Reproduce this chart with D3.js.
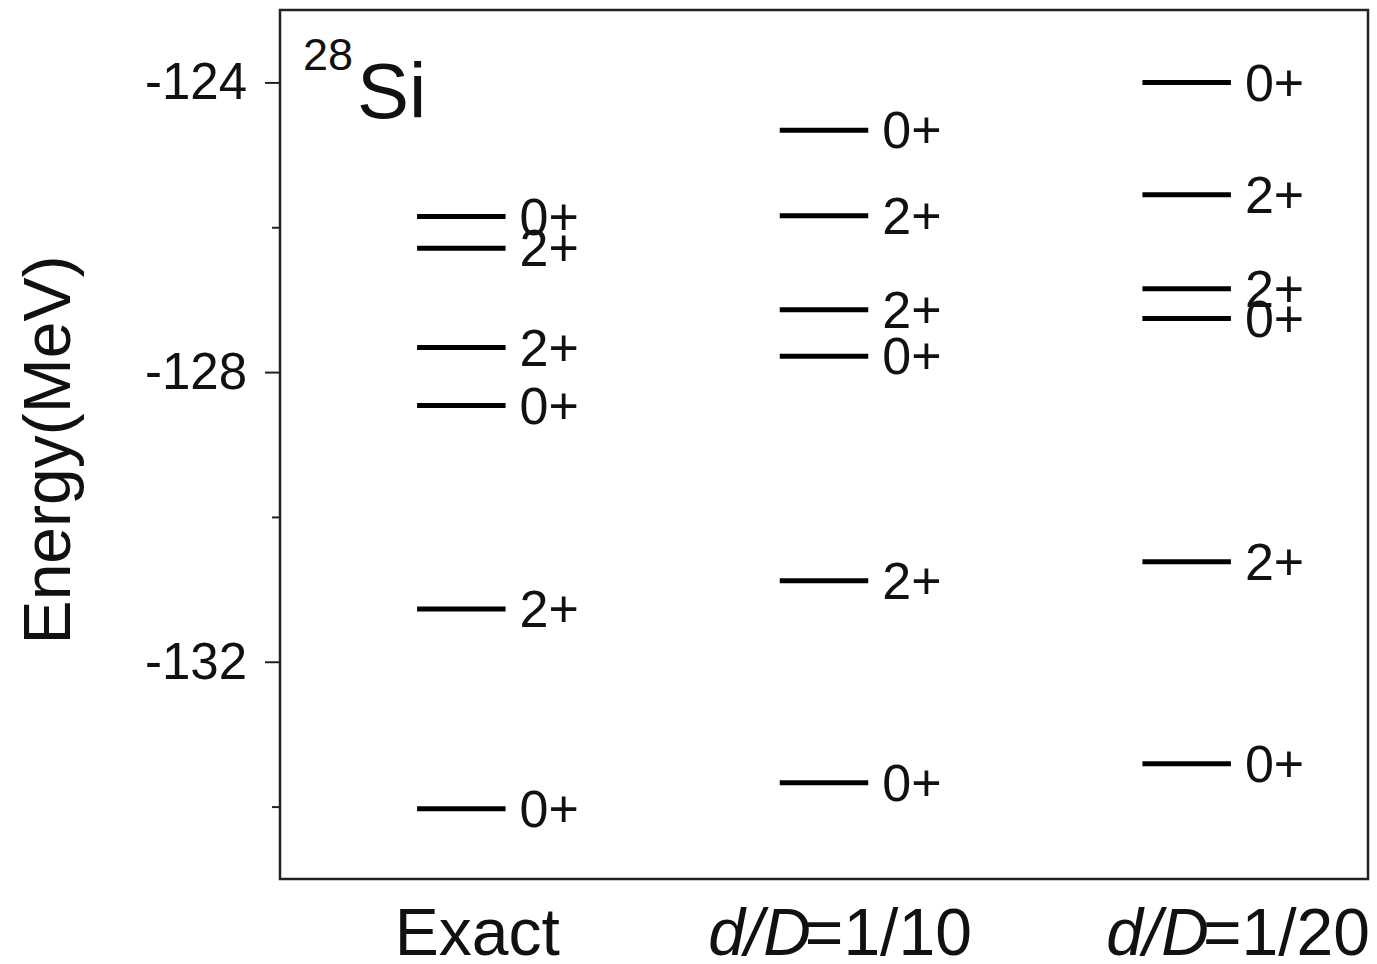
<!DOCTYPE html>
<html>
<head>
<meta charset="utf-8">
<script src="https://cdn.jsdelivr.net/npm/d3@7"></script>
<style>
  body { margin: 0; background: #fff; }
  text { font-family: "Liberation Sans", Arial, sans-serif; fill: #111; }
</style>
</head>
<body>
<div class="container"></div>
<script>
// columns of the level scheme
const categories = ["Exact", "d/D=1/10", "d/D=1/20"];

// level energies (MeV), with spin/parity labels
const exactLevels = [-125.85, -126.29, -127.66, -128.46, -131.27, -134.03];
const exactSpins  = ["0+", "2+", "2+", "0+", "2+", "0+"];
const tenthLevels = [-124.66, -125.84, -127.14, -127.78, -130.88, -133.67];
const tenthSpins  = ["0+", "2+", "2+", "0+", "2+", "0+"];
const twentiethLevels = [-124.00, -125.55, -126.85, -127.26, -130.62, -133.41];
const twentiethSpins  = ["0+", "2+", "2+", "0+", "2+", "0+"];

const majorTicks = [-124, -128, -132];
const minorTicks = [-126, -130, -134];

const margin = { top: 10, right: 9, bottom: 85, left: 280 };
const width = 1377 - margin.left - margin.right;
const height = 964 - margin.top - margin.bottom;

const svg = d3.select(".container")
  .append("svg")
  .attr("width", 1377)
  .attr("height", 964);

const g = svg.append("g")
  .attr("transform", "translate(" + margin.left + "," + margin.top + ")");

const x = d3.scaleBand().domain(categories).range([0, width]);
const y = d3.scaleLinear().domain([-135, -123]).range([height, 0]);

// build one flat table from the arrays
const columns = [
  { cat: categories[0], levels: exactLevels, spins: exactSpins },
  { cat: categories[1], levels: tenthLevels, spins: tenthSpins },
  { cat: categories[2], levels: twentiethLevels, spins: twentiethSpins }
];
const rows = [];
columns.forEach(function (c) {
  c.levels.forEach(function (e, i) {
    rows.push({ cat: c.cat, energy: e, spin: c.spins[i] });
  });
});

// y axis, major + minor ticks (plain hyphen as in the original)
const yAxis = g.append("g")
  .call(d3.axisLeft(y).tickValues(majorTicks).tickSize(15).tickPadding(18).tickFormat(d => String(d)));
yAxis.select(".domain").remove();
yAxis.selectAll("line").attr("stroke", "#222").attr("stroke-width", 2);
yAxis.selectAll("text")
  .style("font-family", "'Liberation Sans', Arial, sans-serif")
  .style("font-size", "51px")
  .attr("fill", "#111");

const yMinor = g.append("g")
  .call(d3.axisLeft(y).tickValues(minorTicks).tickSize(8).tickFormat(""));
yMinor.select(".domain").remove();
yMinor.selectAll("line").attr("stroke", "#222").attr("stroke-width", 2);

// frame
g.append("rect")
  .attr("x", 0)
  .attr("y", 0)
  .attr("width", width)
  .attr("height", height)
  .attr("fill", "none")
  .attr("stroke", "#222")
  .attr("stroke-width", 2.5);

// level lines
const half = x.bandwidth() * 0.122;
g.selectAll("line.level")
  .data(rows)
  .enter()
  .append("line")
  .attr("class", "level")
  .attr("x1", d => x(d.cat) + x.bandwidth() / 2 - half)
  .attr("x2", d => x(d.cat) + x.bandwidth() / 2 + half)
  .attr("y1", d => y(d.energy))
  .attr("y2", d => y(d.energy))
  .attr("stroke", "#000")
  .attr("stroke-width", 5);

g.selectAll("text.spin")
  .data(rows)
  .enter()
  .append("text")
  .attr("class", "spin")
  .attr("x", d => x(d.cat) + x.bandwidth() / 2 + half + 14)
  .attr("y", d => y(d.energy))
  .attr("dy", "0.35em")
  .style("font-size", "52px")
  .text(d => d.spin);

// category labels under the frame
const catLabels = g.selectAll("text.cat")
  .data(categories)
  .enter()
  .append("text")
  .attr("class", "cat")
  .attr("y", height + 76)
  .attr("text-anchor", "middle")
  .style("font-size", "66px");

catLabels.each(function (d) {
  const t = d3.select(this);
  if (d.indexOf("d/D") === 0) {
    t.append("tspan").style("font-style", "italic").text("d/D");
    t.append("tspan").attr("dx", -6).text(d.slice(3));
  } else {
    t.text(d);
  }
  // centre a bit right of the column, but let the last one run to the frame edge
  let cx = x(d) + x.bandwidth() / 2 + 16;
  t.attr("x", cx);
  const box = this.getBBox();
  if (box.x + box.width < width + 2 && cx + box.width / 2 > width - 40) {
    cx += (width + 2) - (box.x + box.width);
    t.attr("x", cx);
  }
});

// y label
svg.append("text")
  .attr("transform", "rotate(-90)")
  .attr("x", -450)
  .attr("y", 70)
  .attr("text-anchor", "middle")
  .style("font-size", "66px")
  .text("Energy(MeV)");

// nucleus tag
const tag = g.append("text")
  .attr("x", 23)
  .attr("y", 108);
tag.append("tspan").style("font-size", "45px").attr("dy", -48).text("28");
tag.append("tspan").style("font-size", "78px").attr("dy", 48).attr("dx", 4).text("Si");
</script>
</body>
</html>
